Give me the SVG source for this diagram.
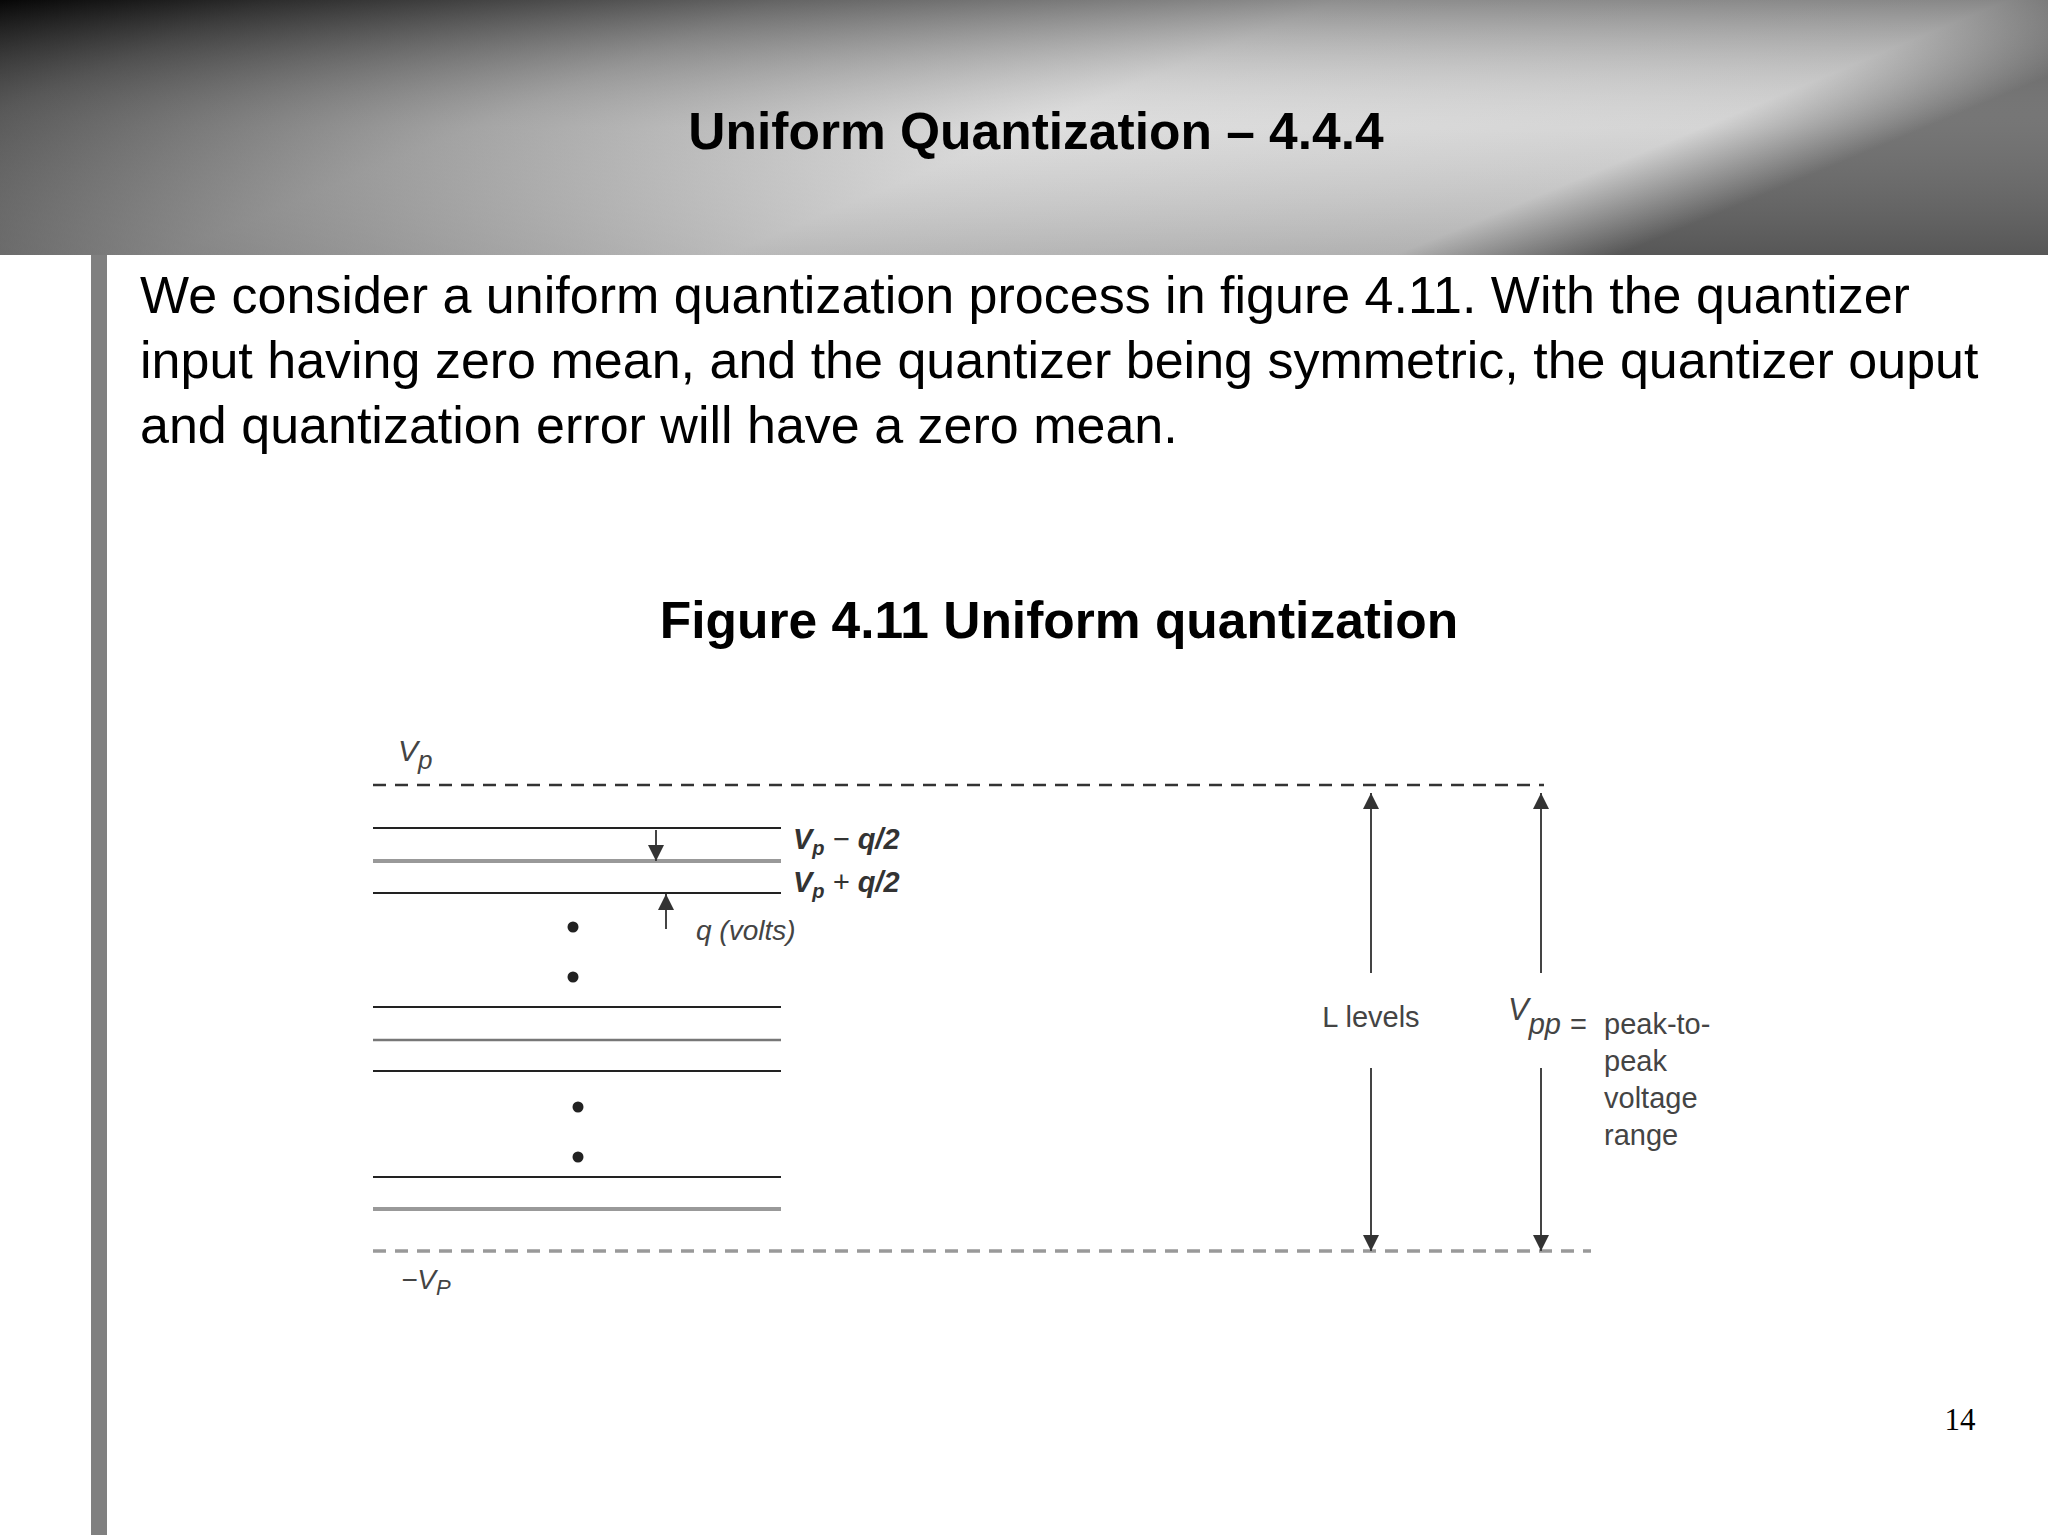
<svg xmlns="http://www.w3.org/2000/svg" width="2048" height="1535" viewBox="0 0 2048 1535">
<defs>
<linearGradient id="hdr" x1="0" y1="0" x2="1" y2="0.3">
<stop offset="0" stop-color="#0a0a0a"/>
<stop offset="0.12" stop-color="#444"/>
<stop offset="0.35" stop-color="#9a9a9a"/>
<stop offset="0.6" stop-color="#dadada"/>
<stop offset="0.9" stop-color="#d0d0d0"/>
<stop offset="1" stop-color="#666"/>
</linearGradient>
<linearGradient id="hdrv" x1="0" y1="0" x2="0" y2="1">
<stop offset="0" stop-color="#000" stop-opacity="0.35"/>
<stop offset="0.5" stop-color="#fff" stop-opacity="0.1"/>
<stop offset="1" stop-color="#000" stop-opacity="0.15"/>
</linearGradient>
<marker id="ah" viewBox="0 0 10 10" refX="10" refY="5" markerWidth="18" markerHeight="16" markerUnits="userSpaceOnUse" orient="auto"><path d="M0,0 L10,5 L0,10 z" fill="#333"/></marker>
</defs>
<style>
.body{font-family:"Liberation Sans",Arial,sans-serif;fill:#000}
.fig{font-family:"Liberation Sans",Arial,sans-serif;fill:#444}
.lv{stroke:#222;stroke-width:2}
.lg{stroke:#999;stroke-width:4}
.ar{stroke:#444;stroke-width:2;fill:none;marker-end:url(#ah)}
</style>
<rect width="2048" height="1535" fill="#fff"/>
<rect width="2048" height="255" fill="url(#hdr)"/>
<rect width="2048" height="255" fill="url(#hdrv)"/>
<rect x="91" y="255" width="16" height="1280" fill="#808080"/>
<text class="body" x="1036" y="149" font-size="51.5" font-weight="bold" text-anchor="middle">Uniform Quantization – 4.4.4</text>
<g class="body" font-size="52" xml:space="preserve">
<text x="140" y="313">We consider a uniform quantization process in figure 4.11.  With the quantizer</text>
<text x="140" y="378">input having zero mean, and the quantizer being symmetric, the quantizer ouput</text>
<text x="140" y="443">and quantization error will have a zero mean.</text>
</g>
<text class="body" x="1059" y="638" font-size="51.5" font-weight="bold" text-anchor="middle">Figure 4.11 Uniform quantization</text>
<text x="1960" y="1430" font-size="31" font-family="'Liberation Serif',serif" fill="#000" text-anchor="middle">14</text>

<g id="levels">
<line x1="373" y1="785" x2="1544" y2="785" stroke="#333" stroke-width="2.5" stroke-dasharray="13,9"/>
<line x1="373" y1="1251" x2="1591" y2="1251" stroke="#999" stroke-width="3.5" stroke-dasharray="13,9"/>
<line class="lv" x1="373" y1="828" x2="781" y2="828"/>
<line class="lg" x1="373" y1="861" x2="781" y2="861"/>
<line class="lv" x1="373" y1="893" x2="781" y2="893"/>
<line class="lv" x1="373" y1="1007" x2="781" y2="1007"/>
<line class="lg" x1="373" y1="1040" x2="781" y2="1040" style="stroke-width:2.5;stroke:#777"/>
<line class="lv" x1="373" y1="1071" x2="781" y2="1071"/>
<line class="lv" x1="373" y1="1177" x2="781" y2="1177"/>
<line class="lg" x1="373" y1="1209" x2="781" y2="1209"/>
<circle cx="573" cy="927" r="5.5" fill="#222"/>
<circle cx="573" cy="977" r="5.5" fill="#222"/>
<circle cx="578" cy="1107" r="5.5" fill="#222"/>
<circle cx="578" cy="1157" r="5.5" fill="#222"/>
</g>
<g id="connectors">
<line class="ar" x1="656" y1="830" x2="656" y2="861"/>
<line class="ar" x1="666" y1="929" x2="666" y2="894"/>
<line class="ar" x1="1371" y1="973" x2="1371" y2="793"/>
<line class="ar" x1="1371" y1="1068" x2="1371" y2="1251"/>
<line class="ar" x1="1541" y1="973" x2="1541" y2="793"/>
<line class="ar" x1="1541" y1="1068" x2="1541" y2="1251"/>
</g>
<g id="labels" class="fig">
<text x="398" y="761" font-size="30" font-style="italic">V<tspan dy="8" font-size="26">p</tspan></text>
<text x="401" y="1289" font-size="28" font-style="italic">−V<tspan dy="6" font-size="22">P</tspan></text>
<text x="793" y="849" font-size="29" font-style="italic" font-weight="bold" fill="#333">V<tspan dy="6" font-size="20">p</tspan><tspan dy="-6" font-weight="normal"> − </tspan>q/2</text>
<text x="793" y="892" font-size="29" font-style="italic" font-weight="bold" fill="#333">V<tspan dy="6" font-size="20">p</tspan><tspan dy="-6" font-weight="normal"> + </tspan>q/2</text>
<text x="696" y="940" font-size="28" font-style="italic">q (volts)</text>
<text x="1371" y="1027" font-size="29" text-anchor="middle">L levels</text>
<text x="1508" y="1020" font-size="31" font-style="italic">V<tspan dy="14" font-size="29">pp</tspan><tspan x="1570" font-style="normal" font-size="29">=</tspan></text>
<text x="1604" y="1034" font-size="29">peak-to-</text>
<text x="1604" y="1071" font-size="29">peak</text>
<text x="1604" y="1108" font-size="29">voltage</text>
<text x="1604" y="1145" font-size="29">range</text>
</g>
</svg>
